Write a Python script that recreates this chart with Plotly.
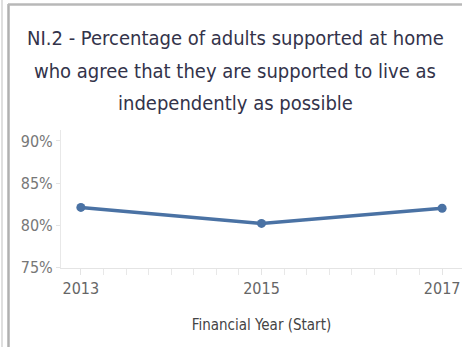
import plotly.graph_objects as go

# Financial year (start) and share of adults agreeing (%)
years = [2013, 2015, 2017]
pct_agree = [82.1, 80.2, 82.0]

y_tick_vals = [75, 80, 85, 90]
y_tick_text = ["75%", "80%", "85%", "90%"]
x_tick_vals = [2013, 2015, 2017]

title_lines = [
    "NI.2 - Percentage of adults supported at home",
    "who agree that they are supported to live as",
    "independently as possible",
]

FONT = "Liberation Sans Narrow, DejaVu Sans Condensed, Arial Narrow, sans-serif"
W, H = 462, 347
ML, MR, MT, MB = 61, 0, 130, 79
PW, PH = W - ML - MR, H - MT - MB


def px_x(x):
    return (x - ML) / PW


def px_y(y):
    return 1 - (y - MT) / PH


fig = go.Figure()
fig.add_trace(go.Scatter(
    x=years, y=pct_agree, mode="lines+markers",
    line=dict(color="#4a72a4", width=3.5),
    marker=dict(color="#4a72a4", size=9),
    hoverinfo="skip",
))

# title lines
for line, ypix in zip(title_lines, [38, 71, 103]):
    fig.add_annotation(
        text=line, xref="paper", yref="paper",
        x=px_x(235), y=px_y(ypix), xanchor="center", yanchor="middle",
        showarrow=False, font=dict(family=FONT, size=20, color="#33334a"),
    )

# worksheet frame lines
frame = dict(xref="paper", yref="paper", layer="above")
fig.add_shape(type="line", x0=px_x(2), x1=px_x(2), y0=px_y(0), y1=px_y(H),
              line=dict(color="#d4d4d4", width=1.5), **frame)
fig.add_shape(type="line", x0=px_x(8.5), x1=px_x(8.5), y0=px_y(4), y1=px_y(H),
              line=dict(color="#b0b0b0", width=2.5), **frame)
fig.add_shape(type="line", x0=px_x(8), x1=px_x(W), y0=px_y(4.5), y1=px_y(4.5),
              line=dict(color="#b8b8b8", width=2.5), **frame)

fig.update_layout(
    width=W, height=H,
    margin=dict(l=ML, r=MR, t=MT, b=MB),
    paper_bgcolor="white", plot_bgcolor="white",
    showlegend=False,
    font=dict(family=FONT, color="#666666"),
    xaxis=dict(
        range=[2012.78, 2017.22],
        tickvals=x_tick_vals, ticktext=[str(v) for v in x_tick_vals],
        showgrid=False, zeroline=False,
        showline=True, linecolor="#e4e4e4", linewidth=1,
        ticks="outside", ticklen=6, tickcolor="#e4e4e4",
        minor=dict(dtick=0.25, tick0=2013, ticks="outside", ticklen=6, tickcolor="#e8e8e8"),
        tickfont=dict(family=FONT, size=16, color="#666666"),
        title=dict(text="Financial Year (Start)", standoff=22,
                   font=dict(family=FONT, size=15, color="#444444")),
    ),
    yaxis=dict(
        range=[74.9, 91.3],
        tickvals=y_tick_vals, ticktext=y_tick_text,
        showgrid=False, zeroline=False,
        showline=True, linecolor="#e8e8e8", linewidth=1,
        ticks="outside", ticklen=4, tickcolor="#e4e4e4",
        tickfont=dict(family=FONT, size=16, color="#777777"),
    ),
)

fig.write_html("out.html")
